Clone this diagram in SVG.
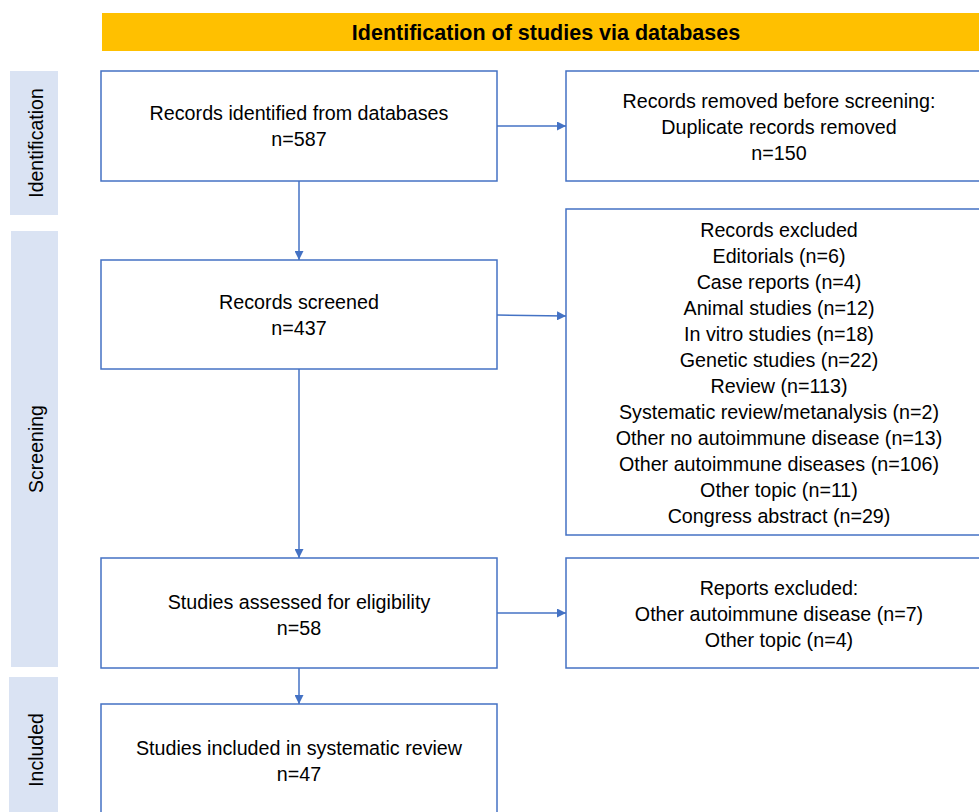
<svg xmlns="http://www.w3.org/2000/svg" width="979" height="812" viewBox="0 0 979 812">
<defs>
<style>
.box{fill:#fff;stroke:#4472C4;stroke-width:1.5}
.side{fill:#DAE3F3}
.t{font-family:"Liberation Sans",Arial,sans-serif;font-size:19.7px;fill:#000;text-anchor:middle}
.st{font-family:"Liberation Sans",Arial,sans-serif;font-size:19.5px;fill:#000;text-anchor:middle}
.title{font-family:"Liberation Sans",Arial,sans-serif;font-size:21.5px;font-weight:bold;fill:#000;text-anchor:middle}
.c{stroke:#4472C4;stroke-width:1.5;fill:none;marker-end:url(#ah)}
</style>
<marker id="ah" viewBox="0 0 10 10" refX="10" refY="5" markerWidth="9" markerHeight="9" markerUnits="userSpaceOnUse" orient="auto">
<path d="M0,0 L10,5 L0,10 z" fill="#4472C4"/>
</marker>
</defs>
<rect width="979" height="812" fill="#fff"/>
<g id="header">
<rect x="102" y="13" width="890" height="38" fill="#FFC000"/>
<text class="title" x="546" y="40">Identification of studies via databases</text>
</g>
<g id="side-identification">
<rect class="side" x="10" y="71" width="48" height="144"/>
<text class="st" transform="translate(43,143) rotate(-90)">Identification</text>
</g>
<g id="side-screening">
<rect class="side" x="11" y="231" width="47" height="436"/>
<text class="st" transform="translate(43,449) rotate(-90)">Screening</text>
</g>
<g id="side-included">
<rect class="side" x="9" y="677" width="49" height="140"/>
<text class="st" transform="translate(43,750) rotate(-90)">Included</text>
</g>
<g id="connectors">
<path class="c" d="M299,181 V260"/>
<path class="c" d="M299,369 V558"/>
<path class="c" d="M299,668 V704"/>
<path class="c" d="M497,126 H566"/>
<path class="c" d="M497,315 L566,316"/>
<path class="c" d="M497,613 H566"/>
</g>
<g id="identified">
<rect class="box" x="101" y="71" width="396" height="110"/>
<text class="t" x="299" y="120">Records identified from databases</text>
<text class="t" x="299" y="146">n=587</text>
</g>
<g id="removed">
<rect class="box" x="566" y="71" width="426" height="110"/>
<text class="t" x="779" y="108">Records removed before screening:</text>
<text class="t" x="779" y="134">Duplicate records removed</text>
<text class="t" x="779" y="160">n=150</text>
</g>
<g id="screened">
<rect class="box" x="101" y="260" width="396" height="109"/>
<text class="t" x="299" y="309">Records screened</text>
<text class="t" x="299" y="335">n=437</text>
</g>
<g id="excluded">
<rect class="box" x="566" y="209" width="426" height="326"/>
<text class="t" x="779" y="237">Records excluded</text>
<text class="t" x="779" y="263">Editorials (n=6)</text>
<text class="t" x="779" y="289">Case reports (n=4)</text>
<text class="t" x="779" y="315">Animal studies (n=12)</text>
<text class="t" x="779" y="341">In vitro studies (n=18)</text>
<text class="t" x="779" y="367">Genetic studies (n=22)</text>
<text class="t" x="779" y="393">Review (n=113)</text>
<text class="t" x="779" y="419">Systematic review/metanalysis (n=2)</text>
<text class="t" x="779" y="445">Other no autoimmune disease (n=13)</text>
<text class="t" x="779" y="471">Other autoimmune diseases (n=106)</text>
<text class="t" x="779" y="497">Other topic (n=11)</text>
<text class="t" x="779" y="523">Congress abstract (n=29)</text>
</g>
<g id="assessed">
<rect class="box" x="101" y="558" width="396" height="110"/>
<text class="t" x="299" y="609">Studies assessed for eligibility</text>
<text class="t" x="299" y="635">n=58</text>
</g>
<g id="reports-excluded">
<rect class="box" x="566" y="558" width="426" height="110"/>
<text class="t" x="779" y="595">Reports excluded:</text>
<text class="t" x="779" y="621">Other autoimmune disease (n=7)</text>
<text class="t" x="779" y="647">Other topic (n=4)</text>
</g>
<g id="included">
<rect class="box" x="101" y="704" width="396" height="120"/>
<text class="t" x="299" y="755">Studies included in systematic review</text>
<text class="t" x="299" y="781">n=47</text>
</g>
</svg>
